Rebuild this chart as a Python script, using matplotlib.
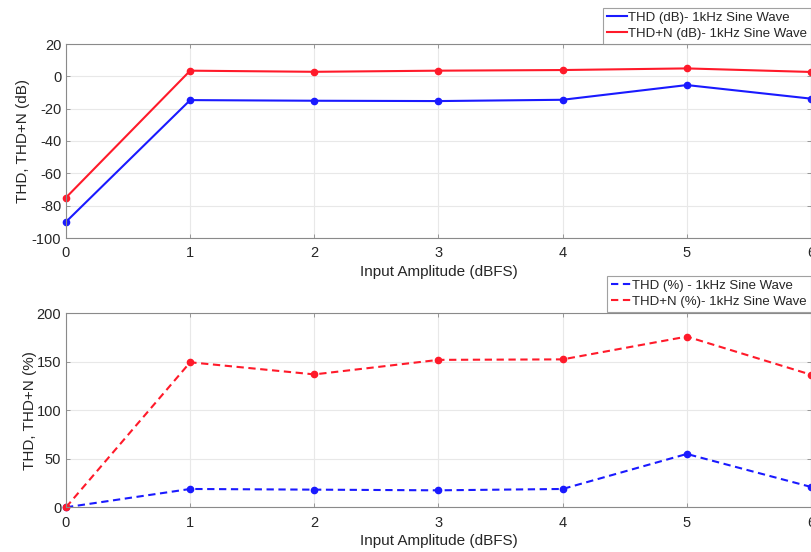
import matplotlib
matplotlib.use("Agg")
import matplotlib.pyplot as plt
from matplotlib.lines import Line2D

x = [0, 1, 2, 3, 4, 5, 6]
thd_db = [-90, -14.7, -15.1, -15.3, -14.5, -5.4, -13.8]
thdn_db = [-75, 3.5, 2.8, 3.5, 3.9, 4.9, 2.7]
thd_pct = [0, 18.9, 18.2, 17.5, 18.9, 55, 21]
thdn_pct = [0, 149.5, 137, 152, 152.5, 176, 136.7]

plt.rcParams['font.family'] = ['Liberation Sans', 'DejaVu Sans']
plt.rcParams['axes.unicode_minus'] = False

W, H = 812, 552
fig = plt.figure(figsize=(W / 100, H / 100), dpi=100)

blue = '#1a1aff'
red = '#ff1a2a'
gray_txt = '#262626'
DASH = (3.5, 2.2)

def make_axes(top, bottom):
    return fig.add_axes([66 / W, (H - bottom) / H, 745 / W, (bottom - top) / H])

def style(ax, ylim, yticks, ylabel, ylpad):
    ax.set_xlim(0, 6)
    ax.set_ylim(*ylim)
    ax.set_xticks(x)
    ax.set_yticks(yticks)
    ax.grid(True, color='#e8e8e8', lw=0.8)
    ax.set_axisbelow(True)
    for s in ax.spines.values():
        s.set_color('#8a8a8a')
        s.set_linewidth(0.8)
    ax.tick_params(direction='in', length=3, width=0.6, colors='#8a8a8a',
                   labelcolor=gray_txt, labelsize=10.5, top=True, right=True)
    ax.tick_params(axis='x', pad=6)
    ax.set_xlabel('Input Amplitude (dBFS)', fontsize=11, color=gray_txt, labelpad=3.5)
    ax.set_ylabel(ylabel, fontsize=11, color=gray_txt, labelpad=ylpad)

def add_legend(ax, handles, labels, top_px):
    leg = ax.legend(handles, labels, loc='lower right', bbox_to_anchor=(811 / W, (H - top_px) / H),
                    bbox_transform=fig.transFigure, fontsize=9.5, frameon=True, fancybox=False,
                    edgecolor='#8a8a8a', handlelength=1.5, handletextpad=0.1,
                    borderpad=0.3, labelspacing=0.3, borderaxespad=0)
    leg.get_frame().set_linewidth(0.8)
    for t in leg.get_texts():
        t.set_color(gray_txt)
    return leg

ax1 = make_axes(44, 238)
ax1.plot(x, thd_db, color=blue, lw=1.5, marker='o', ms=4.5, clip_on=False)
ax1.plot(x, thdn_db, color=red, lw=1.5, marker='o', ms=4.5, clip_on=False)
style(ax1, (-100, 20), range(-100, 21, 20), 'THD, THD+N (dB)', 1)
add_legend(ax1, [Line2D([], [], color=blue, lw=1.5), Line2D([], [], color=red, lw=1.5)],
           ['THD (dB)- 1kHz Sine Wave', 'THD+N (dB)- 1kHz Sine Wave'], 44)

ax2 = make_axes(313.3, 507.3)
ax2.plot(x, thd_pct, color=blue, lw=1.5, ls='--', dashes=DASH, marker='o', ms=4.5, clip_on=False)
ax2.plot(x, thdn_pct, color=red, lw=1.5, ls='--', dashes=DASH, marker='o', ms=4.5, clip_on=False)
style(ax2, (0, 200), range(0, 201, 50), 'THD, THD+N (%)', 0)
add_legend(ax2, [Line2D([], [], color=blue, lw=1.5, ls='--', dashes=DASH),
                 Line2D([], [], color=red, lw=1.5, ls='--', dashes=DASH)],
           ['THD (%) - 1kHz Sine Wave', 'THD+N (%)- 1kHz Sine Wave'], 312)

fig.savefig('out.png', dpi=100)
